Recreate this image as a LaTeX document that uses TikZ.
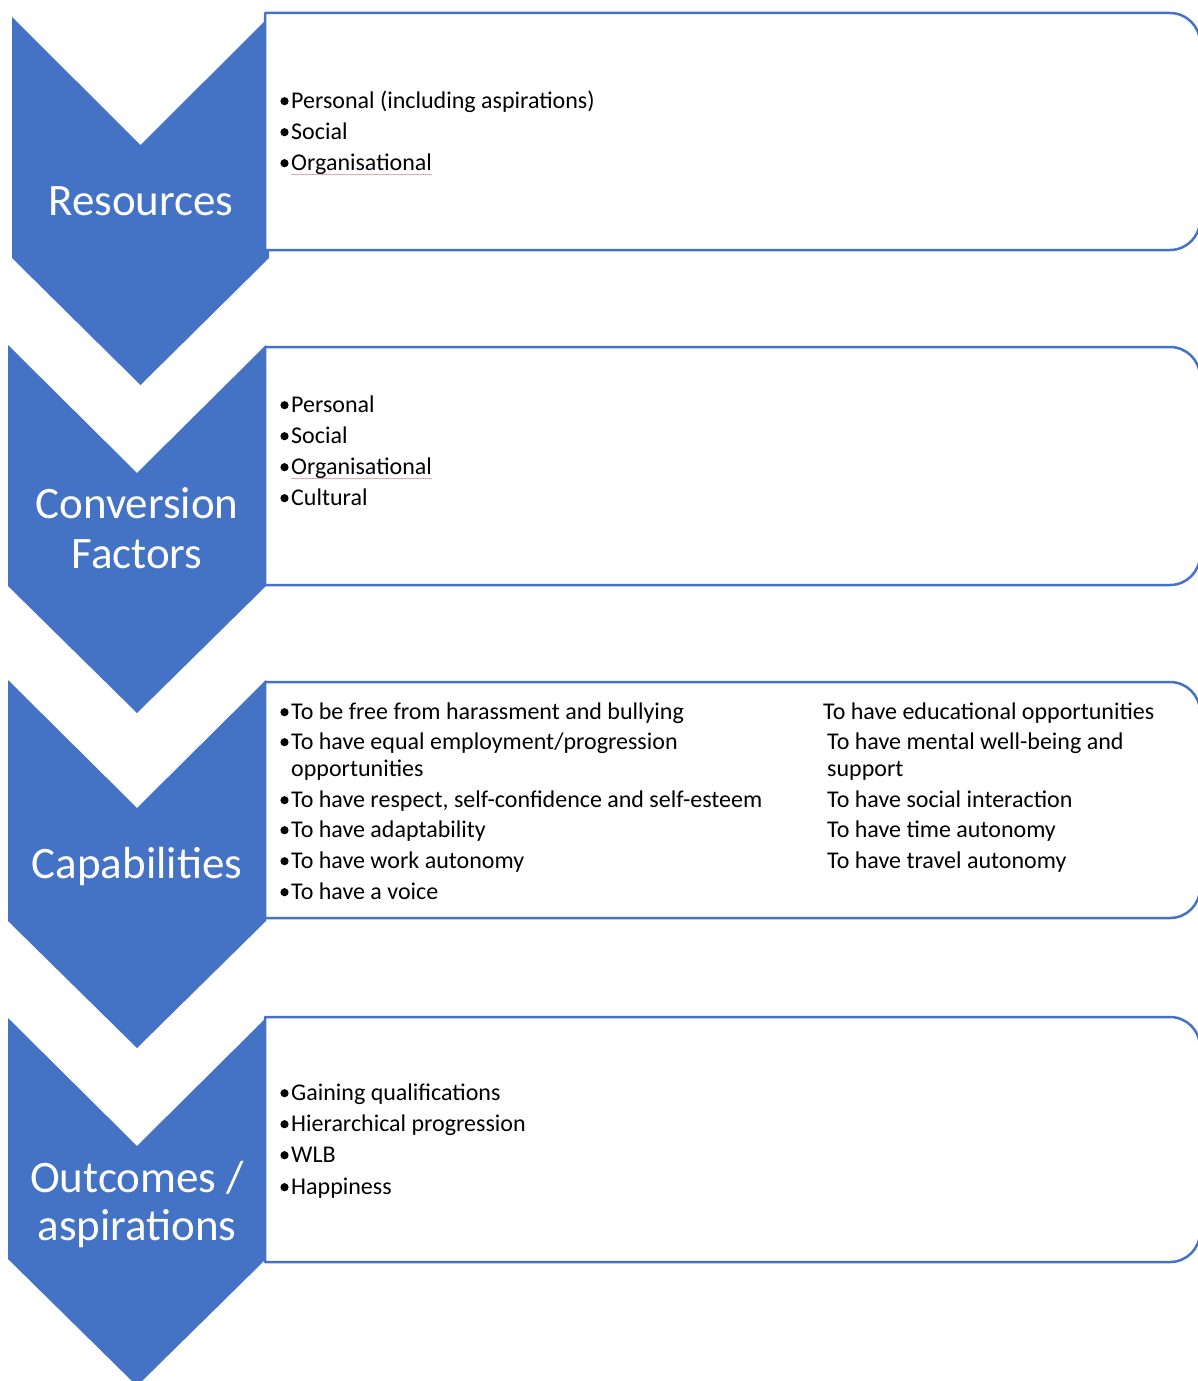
\documentclass[tikz,border=0pt]{standalone}
\usepackage{fontspec}
\setmainfont{Carlito}
\definecolor{accent}{HTML}{4472C4}
\definecolor{spell}{HTML}{F0A8A8}
\newcommand\bodyfont{\fontsize{24}{31}\selectfont}
\newcommand\labelfont{\fontsize{45}{50}\selectfont}
% chevron: left x, right x, top y
\newcommand\chevshape[3]{%
  \fill[accent] (#1,#3) -- ({(#1+#2)/2},{#3+128}) -- (#2,#3) -- (#2,{#3+241})
    -- ({(#1+#2)/2},{#3+368}) -- (#1,{#3+241}) -- cycle;}
% list panel: top y, bottom y (square left side, rounded right side)
\newcommand\panel[2]{%
  \draw[panelline] (265,#2) -- (265,#1) -- (1170,#1)
    .. controls (1186.6,#1) and (1200,{#1+13.4}) .. (1200,{#1+30})
    -- (1200,{#2-30})
    .. controls (1200,{#2-13.4}) and (1186.6,#2) .. (1170,#2) -- cycle;}
% bulleted line: node name, baseline y, text
\newcommand\bulletline[3]{%
  \node[item] (#1) at (291,#2) {#3};
  \fill (#1.base west) ++(-6.5,-6.8) circle (4.1pt);}
\tikzset{
  panelline/.style={draw=accent, fill=white, line width=2.5pt, line join=round},
  item/.style={anchor=base west, inner sep=0pt, font=\bodyfont, text=black},
  steplabel/.style={anchor=base, inner sep=0pt, font=\labelfont, text=white},
  spellmark/.style={draw=spell, line width=0.9pt}
}
\begin{document}
\begin{tikzpicture}[x=1pt,y=-1pt]
\useasboundingbox (0,0) rectangle (1198,1381);

% chevrons
\chevshape{12}{269}{17}
\chevshape{8}{266}{345}
\chevshape{8}{266}{680}
\chevshape{8}{266}{1018}

% panels
\panel{13}{250}
\panel{347}{585}
\panel{682}{918}
\panel{1017}{1262}

% step labels
\node[steplabel] (lres) at (141,215) {Resources};
\node[steplabel] (lconv1) at (137,518) {Conversion};
\node[steplabel] (lconv2) at (137,568) {Factors};
\node[steplabel] (lcap) at (137,878) {Capabilities};
\node[steplabel] (lout1) at (137,1192) {Outcomes /};
\node[steplabel] (lout2) at (137,1240) {aspirations};

% resources
\bulletline{r1}{108}{Personal (including aspirations)}
\bulletline{r2}{139}{Social}
\bulletline{r3}{170}{Organisational}
\draw[spellmark] (r3.base west) ++(0,4) -- ++(141,0);

% conversion factors
\bulletline{c1}{412}{Personal}
\bulletline{c2}{443}{Social}
\bulletline{c3}{474}{Organisational}
\draw[spellmark] (c3.base west) ++(0,4) -- ++(141,0);
\bulletline{c4}{505}{Cultural}

% capabilities, left column
\bulletline{k1}{719}{To be free from harassment and bullying}
\bulletline{k2}{749}{To have equal employment/progression}
\node[item] (k2b) at (291,776) {opportunities};
\bulletline{k3}{807}{To have respect, self-confidence and self-esteem}
\bulletline{k4}{837}{To have adaptability}
\bulletline{k5}{868}{To have work autonomy}
\bulletline{k6}{899}{To have a voice}

% capabilities, right column
\node[item] (m1) at (823,719) {To have educational opportunities};
\node[item] (m2) at (827,749) {To have mental well-being and};
\node[item] (m2b) at (827,776) {support};
\node[item] (m3) at (827,807) {To have social interaction};
\node[item] (m4) at (827,837) {To have time autonomy};
\node[item] (m5) at (827,868) {To have travel autonomy};

% outcomes
\bulletline{o1}{1100}{Gaining qualifications}
\bulletline{o2}{1131}{Hierarchical progression}
\bulletline{o3}{1162}{WLB}
\bulletline{o4}{1194}{Happiness}
\end{tikzpicture}
\end{document}
